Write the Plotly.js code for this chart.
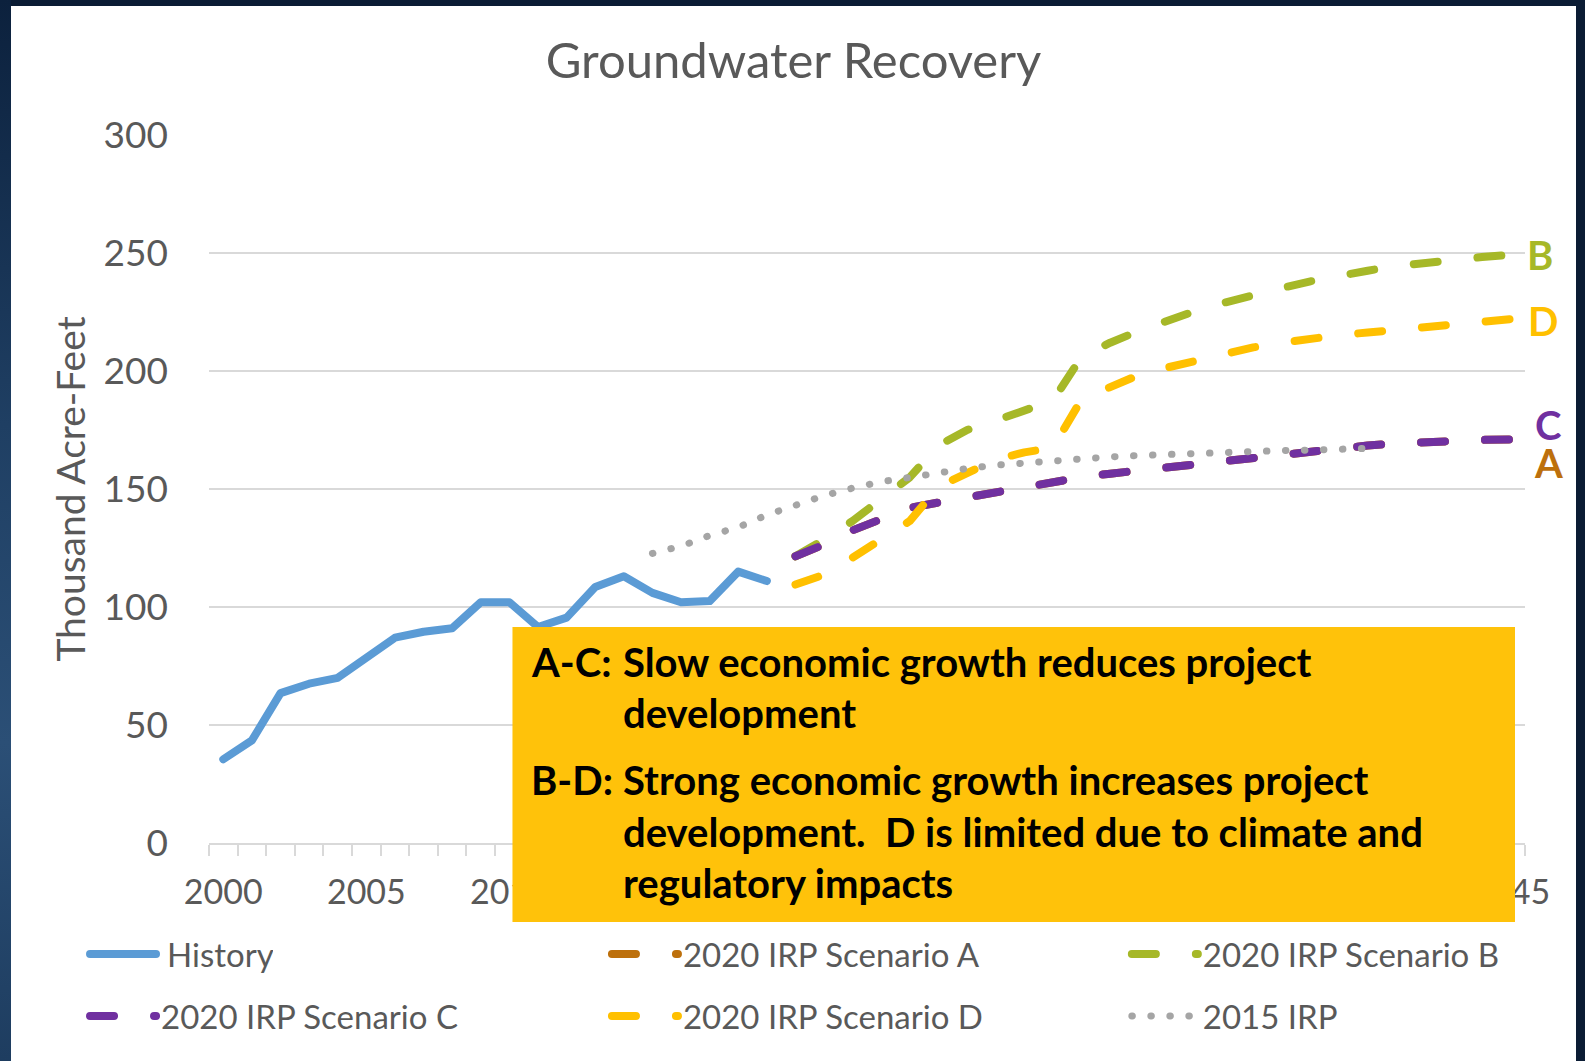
<!DOCTYPE html>
<html><head><meta charset="utf-8">
<script src="https://cdn.plot.ly/plotly-3.0.1.min.js"></script>
<style>
html,body{margin:0;padding:0;width:1585px;height:1061px;overflow:hidden;background:#0b1c34;}
#frameL{position:absolute;left:0;top:0;width:11px;height:1061px;background:linear-gradient(to bottom,#0c213d 0%,#1f3f63 40%,#2b4f76 70%,#1e3d60 100%);}
#chart{position:absolute;left:11px;top:6px;width:1565px;height:1055px;background:#fff;}
.js-line{stroke-linecap:round !important;stroke-linejoin:round !important;}
.legendtext{transform:translateX(6px);}
</style></head>
<body><div id="frameL"></div><div id="chart"></div>
<script>
const historyYears = [2000,2001,2002,2003,2004,2005,2006,2007,2008,2009,2010,2011,2012,2013,2014,2015,2016,2017,2018,2019];
const historyValues = [35.5,43.5,63.5,67.5,70,78.8,87,89.5,91,102,102,91.5,95.5,108.5,113,106,102,102.5,115,111];

const scenarioYears = [2020,2021,2022,2023,2024,2025,2026,2027,2028,2029,2030,2031,2032,2033,2034,2035,2036,2037,2038,2039,2040,2041,2042,2043,2044,2045];
const scenarioA = [121.5,126.5,132.5,137.5,142,144.3,146.5,149,151.3,153.3,155,156.5,157.9,159.3,160.7,162.2,163.6,164.9,166.2,167.4,168.4,169.3,170,170.4,170.8,171];
const scenarioB = [121.5,128.5,136.5,146,155,168.5,175,179,183.5,187.5,206,212,217,221.5,225.5,229,232.3,235.2,238,240.5,242.5,244.5,246,247.2,248.3,249.3];
const scenarioC = [121.5,126.5,132.5,137.5,142,144.3,146.5,149,151.3,153.3,155,156.5,157.9,159.3,160.7,162.2,163.6,164.9,166.2,167.4,168.4,169.3,170,170.4,170.8,171];
const scenarioD = [109.5,113.7,121,129,136.5,151,157,162.5,165.5,167.5,188,193,198.3,201.5,204.5,207,210,212,214,215.2,216.3,217.6,218.8,220,221,222];

const irp2015Years = [2015,2016,2017,2018,2019,2020,2021,2022,2023,2024,2025,2026,2027,2028,2029,2030,2031,2032,2033,2034,2035,2036,2037,2038,2039,2040];
const irp2015Values = [122.7,125.8,130.3,133.8,139,143.2,147.2,150.4,153.1,154.9,157,158.7,160.1,161.1,162,163,163.6,164.2,164.7,165.2,165.8,166.1,166.3,166.5,166.8,167.2];

const seriesNames = ['History','2020 IRP Scenario A','2020 IRP Scenario B','2020 IRP Scenario C','2020 IRP Scenario D','2015 IRP'];
const endLabels = ['A','B','C','D'];
const yTickValues = [0,50,100,150,200,250,300];
const xTickValues = [2000,2005,2010,2015,2020,2025,2030,2035,2040,2045];
const noteLabels = ['A-C:','B-D:'];
const noteLines = [
  ['Slow economic growth reduces project','development'],
  ['Strong economic growth increases project','development.  D is limited due to climate and','regulatory impacts']
];

const FONT = 'Lato, "Open Sans", sans-serif';
const GREY = '#595959';
const colors = {hist:'#5B9BD5', A:'#BD700C', B:'#A6B828', C:'#7030A0', D:'#FFC000', irp:'#A5A5A5'};
const DASH = '24px,40px';

const traces = [
  {x:historyYears, y:historyValues, name:seriesNames[0], mode:'lines', line:{color:colors.hist,width:8}, legend:'legend'},
  {x:scenarioYears, y:scenarioA, name:seriesNames[1], mode:'lines', line:{color:colors.A,width:8,dash:DASH}, legend:'legend2'},
  {x:scenarioYears, y:scenarioB, name:seriesNames[2], mode:'lines', line:{color:colors.B,width:8,dash:DASH}, legend:'legend3'},
  {x:scenarioYears, y:scenarioC, name:seriesNames[3], mode:'lines', line:{color:colors.C,width:8,dash:DASH}, legend:'legend4'},
  {x:scenarioYears, y:scenarioD, name:seriesNames[4], mode:'lines', line:{color:colors.D,width:8,dash:DASH}, legend:'legend5'},
  {x:irp2015Years, y:irp2015Values, name:seriesNames[5], mode:'lines', line:{color:colors.irp,width:7,dash:'0.5px,18.5px'}, legend:'legend6'}
];

function leg(x, y){
  return {xref:'container', yref:'container', x:x, y:y, xanchor:'left', yanchor:'middle',
    orientation:'h', bgcolor:'rgba(0,0,0,0)', itemwidth:66,
    font:{family:FONT, size:33, color:GREY}};
}
const colX = [0.0473, 0.3808, 0.7130];
const rowY = [0.1014, 0.0427];

const last = a => a[a.length-1];
const annotations = [];
// end labels
const endInfo = [
  {t:endLabels[0], v:last(scenarioA), c:colors.A, dx:21, dy:-24},
  {t:endLabels[1], v:last(scenarioB), c:colors.B, dx:14, dy:0},
  {t:endLabels[2], v:last(scenarioC), c:colors.C, dx:22, dy:14},
  {t:endLabels[3], v:last(scenarioD), c:colors.D, dx:15, dy:-2}
];
endInfo.forEach(e => annotations.push({x:last(scenarioYears), y:e.v, xref:'x', yref:'y', text:e.t,
  showarrow:false, xanchor:'left', yanchor:'middle', xshift:e.dx, yshift:e.dy,
  font:{family:FONT, size:40, color:e.c, weight:'bold'}}));
// note box text
const lineY = [[0.2556,0.1836],[0.0890,0.0155,-0.0565]];
noteLabels.forEach((lab,i) => {
  annotations.push({xref:'paper', yref:'paper', x:0.2430, y:lineY[i][0], text:'<b>'+lab+'</b>', showarrow:false,
    xanchor:'left', yanchor:'middle', font:{family:FONT, size:40, color:'#000'}});
  noteLines[i].forEach((ln,j) => annotations.push({xref:'paper', yref:'paper', x:0.3130, y:lineY[i][j], text:'<b>'+ln+'</b>',
    showarrow:false, xanchor:'left', yanchor:'middle', font:{family:FONT, size:40, color:'#000'}}));
});

const layout = {
  width:1565, height:1055,
  margin:{l:198, r:51, t:129, b:218},
  paper_bgcolor:'#ffffff', plot_bgcolor:'#ffffff',
  font:{family:FONT, color:GREY},
  title:{text:'Groundwater Recovery', xref:'container', x:0.5, xanchor:'center', yref:'container', y:0.948, yanchor:'middle',
    font:{family:FONT, size:49, color:GREY}},
  xaxis:{range:[1999.5,2045.5], tickmode:'array', tickvals:xTickValues, ticks:'', ticklabelstandoff:18,
    tickfont:{family:FONT, size:34, color:GREY}, showgrid:false, zeroline:false,
    showline:true, linecolor:'#d9d9d9', linewidth:2,
    minor:{tickmode:'linear', tick0:1999.5, dtick:1, ticks:'outside', ticklen:11, tickwidth:2, tickcolor:'#d9d9d9', showgrid:false}},
  yaxis:{range:[0,300], tickmode:'array', tickvals:yTickValues, ticks:'', ticklabelstandoff:40,
    tickfont:{family:FONT, size:37, color:GREY}, showgrid:true, gridcolor:'#d9d9d9', gridwidth:2, zeroline:false, showline:false,
    title:{text:'Thousand Acre-Feet', standoff:5, font:{family:FONT, size:39, color:GREY}}},
  shapes:[{type:'rect', xref:'paper', yref:'paper', x0:0.2306, x1:0.9924, y0:-0.1116, y1:0.3051,
    fillcolor:'#FFC20A', line:{width:0}, layer:'above'}],
  annotations:annotations,
  legend:leg(colX[0], rowY[0]),
  legend2:leg(colX[1], rowY[0]),
  legend3:leg(colX[2], rowY[0]),
  legend4:leg(colX[0], rowY[1]),
  legend5:leg(colX[1], rowY[1]),
  legend6:leg(colX[2], rowY[1]),
  showlegend:true
};

Plotly.newPlot('chart', traces, layout, {displayModeBar:false, staticPlot:true});
</script>
</body></html>
